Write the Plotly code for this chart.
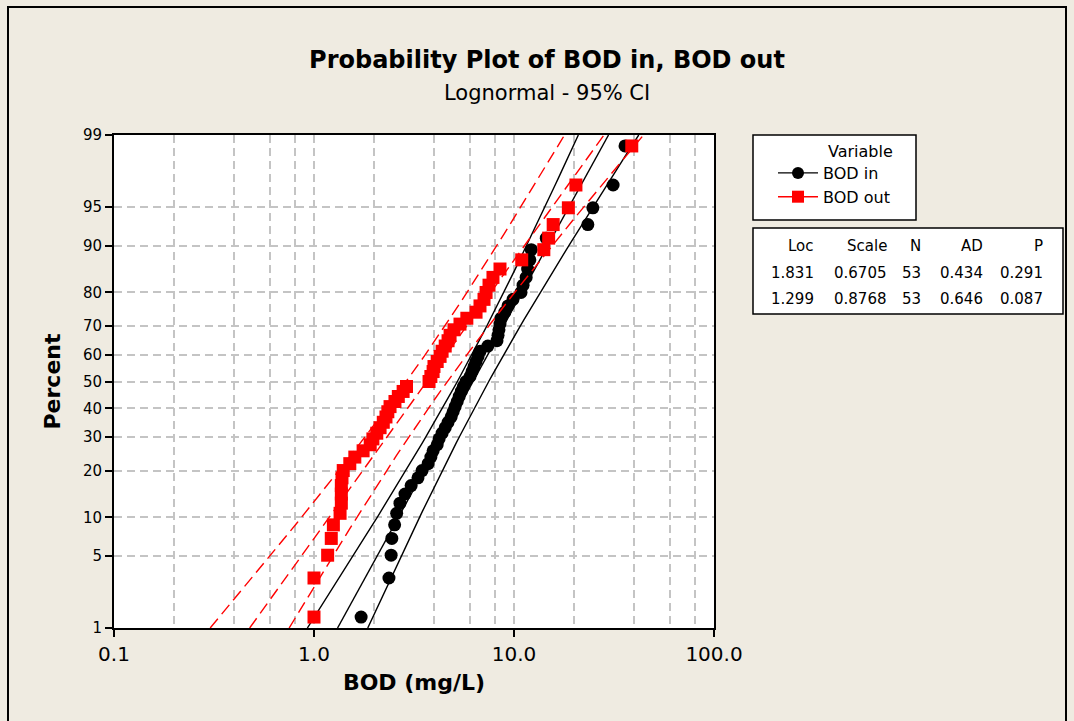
import math
from statistics import NormalDist
import plotly.graph_objects as go

# ---------------- data ----------------
bod_in = [1.72, 2.37, 2.43, 2.45, 2.53, 2.59, 2.69, 2.85, 3.06, 3.31, 3.47, 3.72, 3.84,
          3.94, 4.13, 4.22, 4.37, 4.53, 4.68, 4.85, 4.96, 5.08, 5.20, 5.32, 5.45, 5.58,
          5.75, 6.03, 6.17, 6.31, 6.46, 6.61, 6.76, 7.40, 8.22, 8.32, 8.41, 8.51, 8.60,
          9.00, 9.33, 9.89, 10.84, 11.1, 11.5, 11.7, 12.0, 12.2, 14.5, 23.4, 24.8, 31.3, 35.9]
bod_out = [1.0, 1.0, 1.17, 1.22, 1.25, 1.35, 1.37, 1.37, 1.37, 1.38, 1.40, 1.51, 1.60,
           1.76, 1.91, 1.97, 2.06, 2.14, 2.22, 2.29, 2.34, 2.40, 2.54, 2.64, 2.79, 2.90,
           3.76, 3.84, 3.94, 3.98, 4.13, 4.27, 4.37, 4.53, 4.68, 4.79, 5.01, 5.37, 5.81,
           6.46, 6.76, 7.08, 7.25, 7.50, 7.85, 8.51, 10.93, 14.1, 14.9, 15.7, 18.7, 20.4, 38.8]

series_names = ["BOD in", "BOD out"]
loc = [1.831, 1.299]
scale = [0.6705, 0.8768]
n_obs = [53, 53]
ad = [0.434, 0.646]
pval = [0.291, 0.087]

pct_ticks = [1, 5, 10, 20, 30, 40, 50, 60, 70, 80, 90, 95, 99]
x_ticks = [0.1, 1, 10, 100]
x_ticktext = ["0.1", "1.0", "10.0", "100.0"]
x_minor = [0.2, 0.4, 0.6, 0.8, 2, 4, 6, 8, 20, 40, 60, 80]

# ---------------- helpers ----------------
nd = NormalDist()
def zq(p):
    return nd.inv_cdf(p)

def median_ranks(n):
    return [(i - 0.3) / (n + 0.4) for i in range(1, n + 1)]

z_lo, z_hi = zq(0.01), zq(0.99)
z_grid = [z_lo + (z_hi - z_lo) * k / 80 for k in range(81)]
zc = NormalDist().inv_cdf(0.975)

FONT = "DejaVu Sans"
BG = "#EFEBE1"
colors = ["black", "#FF0000"]
symbols = ["circle", "square"]
dashes = ["solid", "12px,6px"]

fig = go.Figure()
for k, data in enumerate([bod_in, bod_out]):
    vals = sorted(data)
    zs = [zq(p) for p in median_ranks(len(vals))]
    mu, sg, n = loc[k], scale[k], n_obs[k]
    fit = [math.exp(mu + sg * z) for z in z_grid]
    half = [zc * sg * math.sqrt(1 / n + z * z / (2 * n)) for z in z_grid]
    lower = [math.exp(mu + sg * z - h) for z, h in zip(z_grid, half)]
    upper = [math.exp(mu + sg * z + h) for z, h in zip(z_grid, half)]
    for xs in (fit, lower, upper):
        fig.add_trace(go.Scatter(x=xs, y=z_grid, mode="lines", showlegend=False,
                                 hoverinfo="skip",
                                 line=dict(color=colors[k], width=1.4, dash=dashes[k])))
    fig.add_trace(go.Scatter(x=vals, y=zs, mode="markers", showlegend=False,
                             name=series_names[k],
                             marker=dict(color=colors[k], symbol=symbols[k], size=13,
                                         line=dict(width=0))))

# legend-only entries (line + marker)
for k in range(2):
    fig.add_trace(go.Scatter(x=[None], y=[None], mode="lines+markers", name=series_names[k],
                             line=dict(color=colors[k], width=1.4),
                             marker=dict(color=colors[k], symbol=symbols[k], size=12)))

def px_x(px):
    return (px - 114) / 600.0
def px_y(py):
    return (628 - py) / 493.0

shapes = []
# outer frame
shapes.append(dict(type="rect", xref="paper", yref="paper", x0=px_x(8), x1=px_x(1066),
                   y0=px_y(725), y1=px_y(7), line=dict(color="black", width=2), layer="below"))
# legend box
shapes.append(dict(type="rect", xref="paper", yref="paper", x0=px_x(753), x1=px_x(916),
                   y0=px_y(220), y1=px_y(135), line=dict(color="black", width=1.5),
                   fillcolor="white", layer="above"))
# stats box
shapes.append(dict(type="rect", xref="paper", yref="paper", x0=px_x(753), x1=px_x(1063),
                   y0=px_y(314), y1=px_y(228), line=dict(color="black", width=1.5),
                   fillcolor="white", layer="above"))

annotations = []
annotations.append(dict(text="Lognormal - 95% CI", xref="paper", yref="paper",
                        x=px_x(547), y=px_y(93), xanchor="center", yanchor="middle",
                        showarrow=False, font=dict(family=FONT, size=21, color="black")))
annotations.append(dict(text="Variable", xref="paper", yref="paper", x=px_x(826), y=px_y(152),
                        xanchor="left", yanchor="middle", showarrow=False,
                        font=dict(family=FONT, size=16, color="black")))

col_headers = ["Loc", "Scale", "N", "AD", "P"]
col_right = [816, 889, 923, 985, 1045]
col_vals = [[f"{v:.3f}" for v in loc], [f"{v:.4f}" for v in scale],
            [str(v) for v in n_obs], [f"{v:.3f}" for v in ad], [f"{v:.3f}" for v in pval]]
row_y = [246, 272.5, 298.5]
for c in range(5):
    cells = [col_headers[c]] + col_vals[c]
    for r, txt in enumerate(cells):
        annotations.append(dict(text=txt, xref="paper", yref="paper", x=px_x(col_right[c]),
                                y=px_y(row_y[r]), xanchor="right", yanchor="middle",
                                showarrow=False,
                                font=dict(family=FONT, size=15, color="black")))

fig.update_layout(
    width=1074, height=721,
    margin=dict(l=114, r=360, t=135, b=93),
    paper_bgcolor=BG, plot_bgcolor="white",
    font=dict(family=FONT, color="black"),
    title=dict(text="<b>Probability Plot of BOD in, BOD out</b>", x=547 / 1074, xanchor="center",
               y=1 - 60 / 721, yanchor="middle", font=dict(family=FONT, size=24, color="black")),
    showlegend=True,
    legend=dict(x=px_x(773), y=px_y(156), xanchor="left", yanchor="top",
                bgcolor="rgba(0,0,0,0)", borderwidth=0, font=dict(family=FONT, size=16),
                tracegroupgap=0, itemwidth=40),
    shapes=shapes, annotations=annotations,
)

fig.update_xaxes(
    type="log", range=[-1, 2], tickmode="array", tickvals=x_ticks, ticktext=x_ticktext,
    ticks="outside", ticklen=7, tickwidth=1.5, tickcolor="black",
    tickfont=dict(family=FONT, size=20), showline=True, linecolor="black", linewidth=2,
    mirror=True, showgrid=True, gridcolor="#C4C4C4", gridwidth=1.5, griddash="8px,5px",
    zeroline=False,
    minor=dict(tickmode="array", tickvals=x_minor, showgrid=True, gridcolor="#C4C4C4",
               gridwidth=1.5, griddash="8px,5px", ticks=""),
    title=dict(text="<b>BOD (mg/L)</b>", font=dict(family=FONT, size=22), standoff=10),
)
fig.update_yaxes(
    range=[z_lo, z_hi], tickmode="array", tickvals=[zq(p / 100) for p in pct_ticks],
    ticktext=[str(p) for p in pct_ticks],
    ticks="outside", ticklen=7, tickwidth=1.5, tickcolor="black",
    tickfont=dict(family=FONT, size=15), showline=True, linecolor="black", linewidth=2,
    mirror=True, showgrid=True, gridcolor="#C4C4C4", gridwidth=1.5, griddash="8px,5px",
    zeroline=False,
    title=dict(text="<b>Percent</b>", font=dict(family=FONT, size=22), standoff=16),
)

fig.write_html("out.html",
               config={"displayModeBar": False},
               post_script="document.body.style.margin='0';"
                           "document.body.style.background='#EFEBE1';")
